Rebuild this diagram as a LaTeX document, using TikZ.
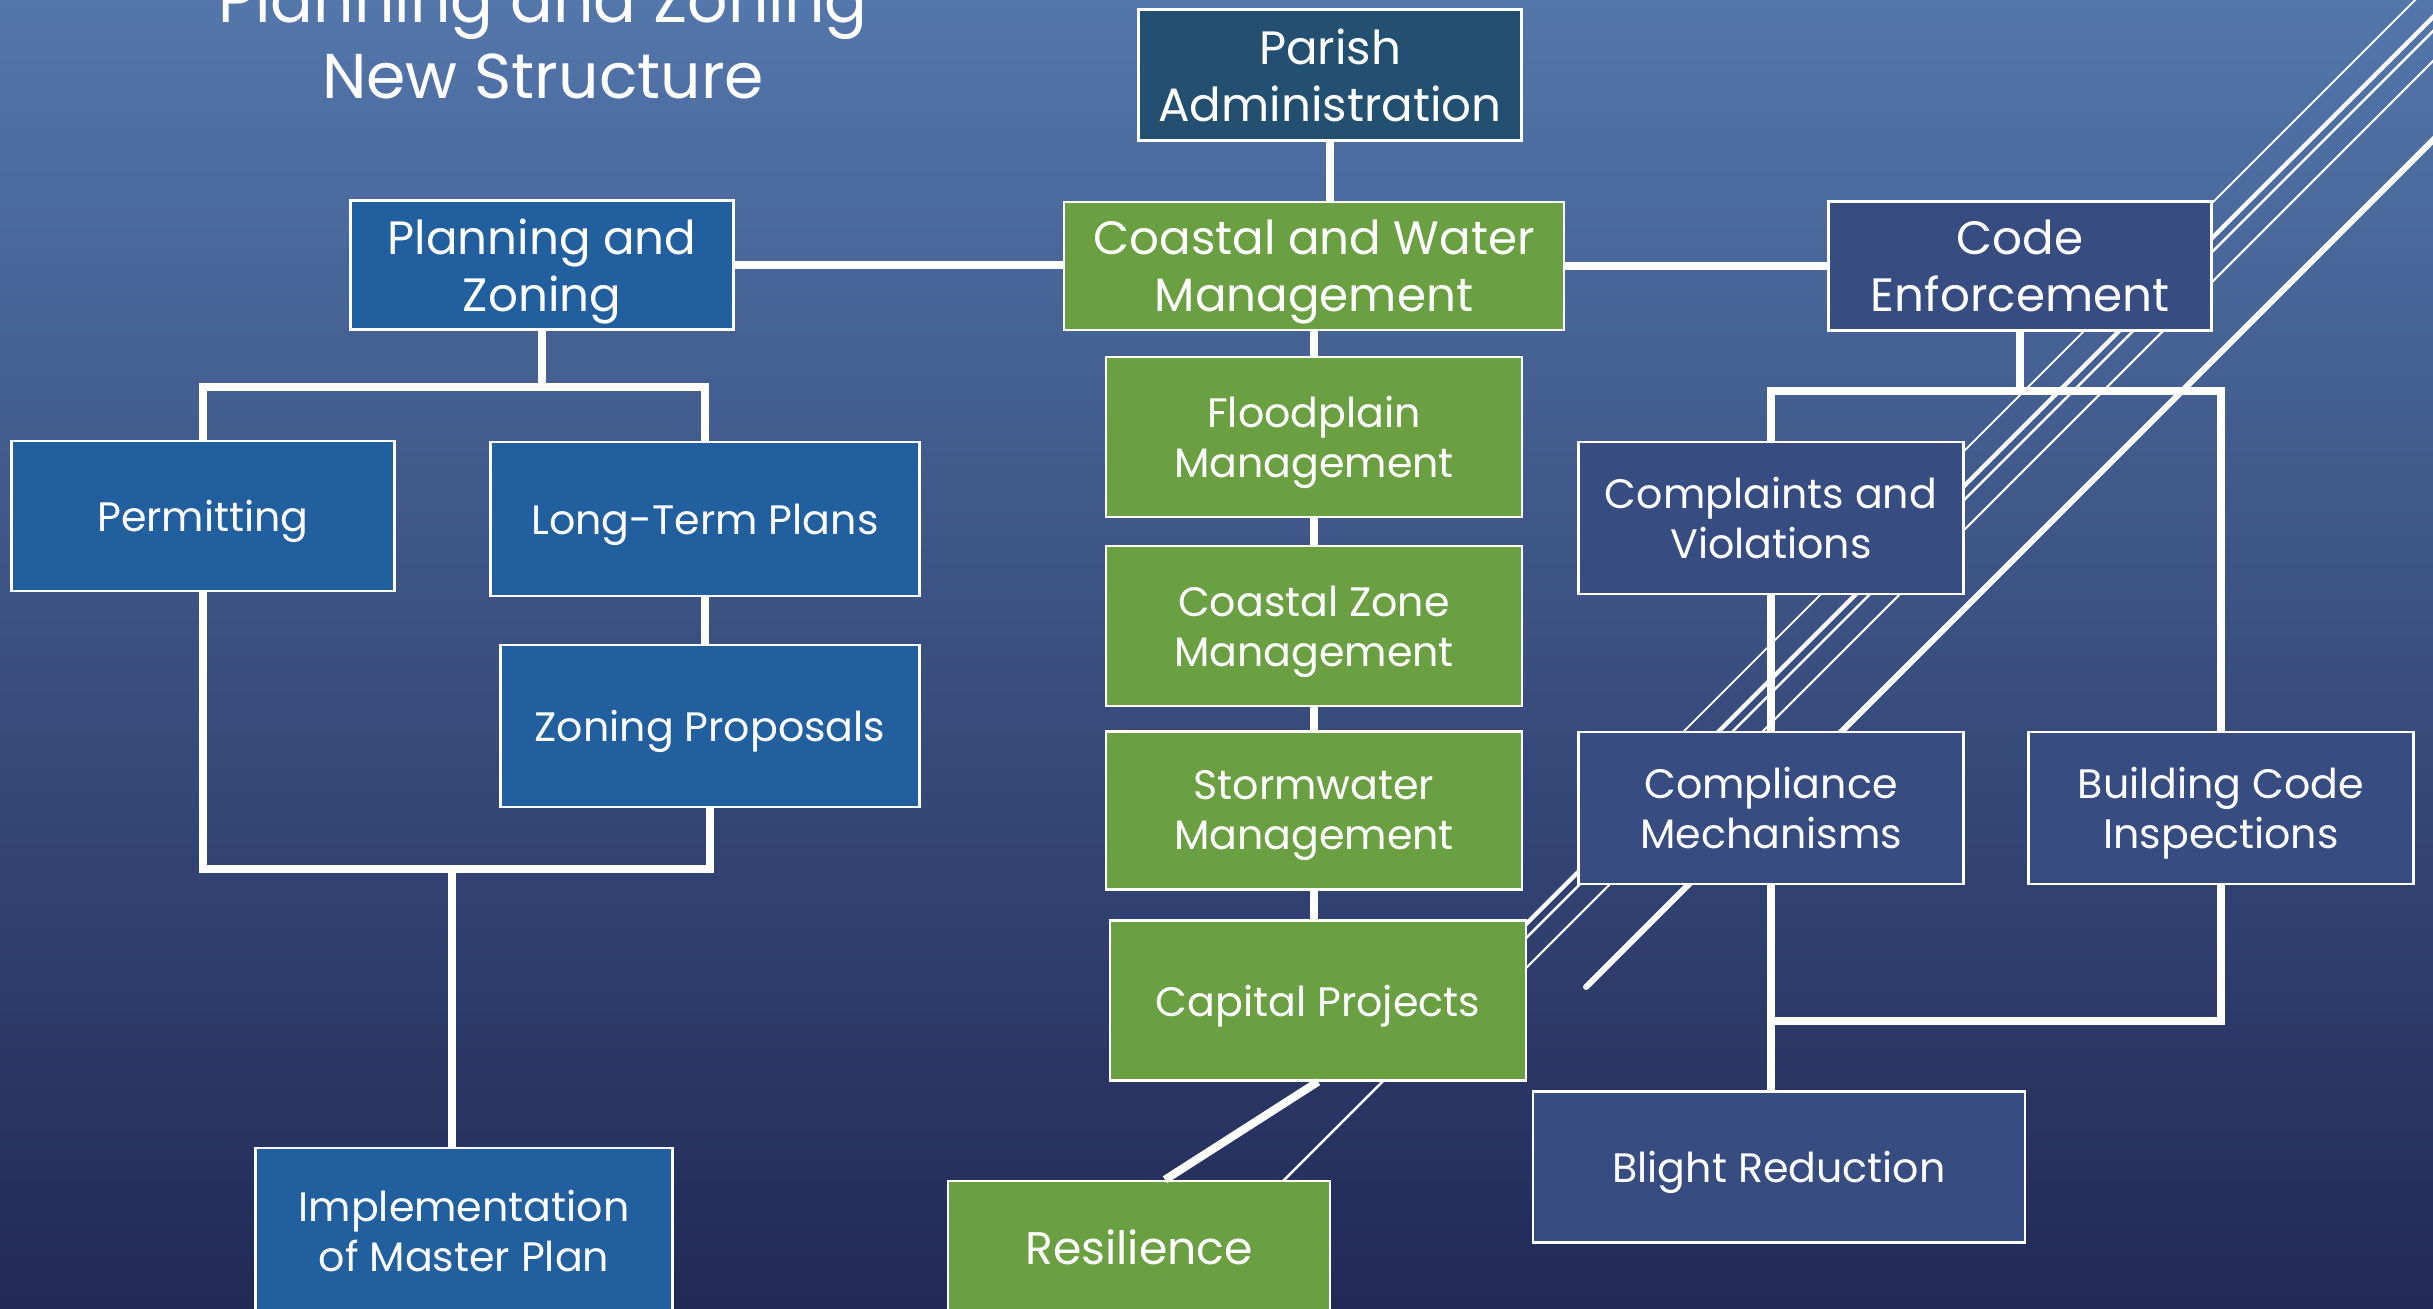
\documentclass[tikz,border=0pt]{standalone}
\usepackage{fontspec}
\setmainfont{Poppins}
\usetikzlibrary{positioning}

\definecolor{bgtop}{RGB}{83,118,171}
\definecolor{bgbot}{RGB}{33,41,86}
\definecolor{planblue}{RGB}{33,95,158}
\definecolor{parishblue}{RGB}{35,79,113}
\definecolor{watergreen}{RGB}{106,160,66}
\definecolor{codeblue}{RGB}{55,76,128}

\begin{document}
\begin{tikzpicture}[x=0.01cm, y=-0.01cm, on grid,
                    box/.style 2 args={draw=white, line width=0.7pt, text=white,
                      align=center, inner sep=0pt, text depth=0pt,
                      minimum width=#1, minimum height=#2},
                    big/.style={font=\fontsize{13.3}{16.2}\selectfont},
                    small/.style={font=\fontsize{11.7}{14.2}\selectfont},
                    title/.style={text=white, align=center, font=\fontsize{18}{21.6}\selectfont},
                    link/.style={draw=white, line width=2.3pt},
                    streak/.style={draw=white}]
% background and the slanted streaks
\shade[top color=bgtop, bottom color=bgbot] (0,0) rectangle (2433,1309);
\useasboundingbox (0,0) rectangle (2433,1309);
\draw[streak, line width=0.5pt] (2440,-25) -- (1640,775);
\draw[streak, line width=1.2pt] (2475,-25) -- (1450,1000);
\draw[streak, line width=0.7pt] (2489,-25) -- (1240,1224);
\draw[streak, line width=0.6pt] (2519,-25) -- (1450,1044);
\draw[streak, line width=1.7pt, line cap=round] (2598,-25) -- (1586,987);

\node[title, anchor=base] (head) at (543,98) {Planning and Zoning\\New Structure};

% top row
\node[box={3.83cm}{1.31cm}, big, fill=parishblue] (parish) at (1330,75) {Parish\\Administration};
\node[box={3.83cm}{1.29cm}, big, fill=planblue]   (plan)   at (542,265)  {Planning and\\Zoning};
\node[box={5.00cm}{1.28cm}, big, fill=watergreen] (coast)  at (1314,266) {Coastal and Water\\Management};
\node[box={3.83cm}{1.29cm}, big, fill=codeblue]   (code)   at (2020,266) {Code\\Enforcement};

% planning and zoning branch
\node[box={3.83cm}{1.50cm}, small, fill=planblue] (permit) at (203,516)  {Permitting};
\node[box={4.29cm}{1.54cm}, small, fill=planblue] (ltp)    at (705,519)  {Long-Term Plans};
\node[box={4.19cm}{1.62cm}, small, fill=planblue] (zprop)  at (710,726)  {Zoning Proposals};
\node[box={4.17cm}{1.66cm}, small, fill=planblue] (impl)   at (464,1231) {Implementation\\of Master Plan};

% coastal and water branch
\node[box={4.16cm}{1.60cm}, small, fill=watergreen] (flood)   [below=1.71cm of coast] {Floodplain\\Management};
\node[box={4.16cm}{1.60cm}, small, fill=watergreen] (czone)   [below=1.89cm of flood] {Coastal Zone\\Management};
\node[box={4.16cm}{1.58cm}, small, fill=watergreen] (storm)   [below=1.84cm of czone] {Stormwater\\Management};
\node[box={4.16cm}{1.60cm}, small, fill=watergreen] (capital) [below=1.90cm of storm, xshift=0.04cm] {Capital Projects};
\node[box={3.82cm}{1.32cm}, fill=watergreen, font=\fontsize{13}{15}\selectfont] (resil) at (1139,1247) {Resilience};

% code enforcement branch
\node[box={3.85cm}{1.52cm}, small, fill=codeblue] (compl)  at (1771,518)  {Complaints and\\Violations};
\node[box={3.85cm}{1.52cm}, small, fill=codeblue] (mech)   [below=2.90cm of compl] {Compliance\\Mechanisms};
\node[box={3.85cm}{1.52cm}, small, fill=codeblue] (bci)    at (2221,808)  {Building Code\\Inspections};
\node[box={4.92cm}{1.51cm}, small, fill=codeblue] (blight) at (1779,1167) {Blight Reduction};

% connectors
\coordinate (pz) at (543,387);
\coordinate (pj) at (452,869);
\coordinate (cz) at (2019,391);
\coordinate (bj) at (1771,1021);

\draw[link] (parish.south) -- (parish.south |- coast.north);
\draw[link] (plan.east) -- (plan.east -| coast.west);
\draw[link] (coast.east) -- (coast.east -| code.west);
\draw[link] (plan.south) -- (plan.south |- pz);
\draw[link] (permit.north) |- (pz) -| (ltp.north);
\draw[link] (ltp.south) -- (ltp.south |- zprop.north);
\draw[link] (permit.south) |- (pj) -| (zprop.south);
\draw[link] (pj) -- (pj |- impl.north);
\draw[link] (coast) -- (flood);
\draw[link] (flood) -- (czone);
\draw[link] (czone) -- (storm);
\draw[link] (storm.south) -- (storm.south |- capital.north);
\draw[link] (capital.south) -- ([xshift=0.26cm]resil.north);
\draw[link] (code.south) -- (code.south |- cz);
\draw[link] (compl.north) |- (cz) -| (bci.north);
\draw[link] (compl) -- (mech);
\draw[link] (mech.south) -- (mech.south |- blight.north);
\draw[link] (bci.south) |- (bj);

\end{tikzpicture}
\end{document}
